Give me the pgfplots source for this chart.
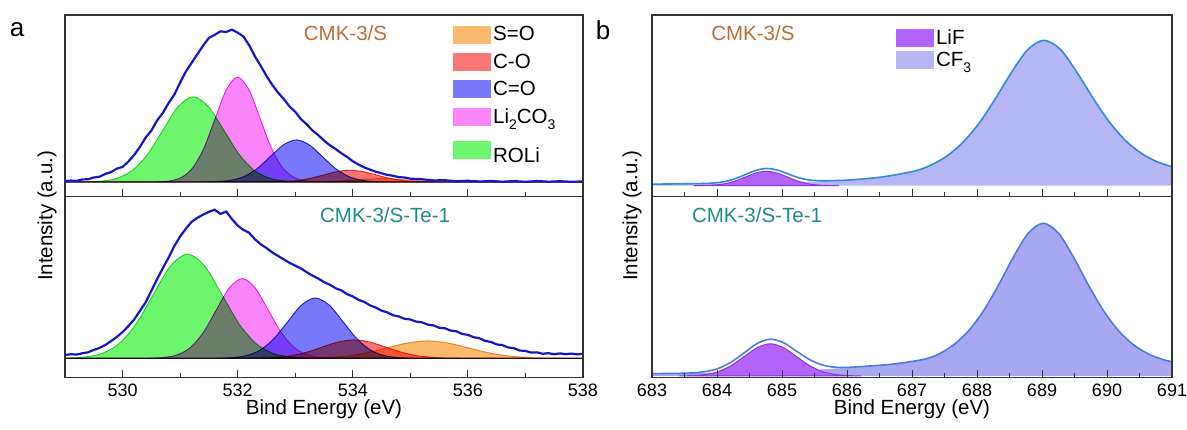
\documentclass[border=0pt]{standalone}
\usepackage{pgfplots}
\pgfplotsset{compat=1.18}
\usepackage{fontspec}
\setmainfont{Liberation Sans}
\definecolor{envA}{RGB}{22,22,200}
\definecolor{envB}{RGB}{45,140,220}
\definecolor{envC}{RGB}{70,125,225}
\definecolor{gF}{RGB}{110,245,110}\definecolor{gL}{RGB}{40,215,40}
\definecolor{mF}{RGB}{250,132,250}\definecolor{mL}{RGB}{235,40,235}
\definecolor{bF}{RGB}{120,120,250}\definecolor{bL}{RGB}{40,40,215}
\definecolor{rF}{RGB}{250,118,118}\definecolor{rL}{RGB}{235,40,40}
\definecolor{oF}{RGB}{250,185,110}\definecolor{oL}{RGB}{240,150,50}
\definecolor{lifF}{RGB}{178,100,248}\definecolor{lifL}{RGB}{140,50,225}
\definecolor{cfF}{RGB}{182,182,245}\definecolor{cfF2}{RGB}{168,168,242}
\definecolor{cmkS}{RGB}{188,110,55}\definecolor{cmkT}{RGB}{30,140,130}
\newcommand\lab{\fontsize{20.5}{24}\selectfont}
\newcommand\sub[1]{\raisebox{-0.55ex}{\fontsize{14}{14}\selectfont #1}}
\pgfplotsset{
 xpsax/.style={scale only axis, anchor=south west, clip=true, axis on top,
  ytick=\empty, tick align=inside, xtick pos=left,
  major tick length=7pt, minor tick length=4pt,
  axis line style={line width=1.2pt, draw=black!80},
  every tick/.style={line width=1pt, black!80},
  tick label style={font=\fontsize{18}{20}\selectfont},
  xticklabel style={yshift=-3pt},
  /pgf/number format/assume math mode=true,
  legend image code/.code={\fill[##1] (0pt,-9pt) rectangle (38pt,9pt);},
 },
 comp/.style={smooth, line width=0.9pt, blend mode=multiply, forget plot},
}
\begin{document}
\begin{tikzpicture}[x=1pt,y=1pt]
\useasboundingbox (0pt,0pt) rectangle (1187pt,430pt);
% ================= panel a top =================
\begin{axis}[xpsax, at={(65pt,233.5pt)}, width=518pt, height=181.5pt,
 xmin=529, xmax=538, ymin=-14.8, ymax=170.5,
 xtick={530,532,534,536,538}, minor xtick={531,533,535,537}, xticklabels={},
 legend style={at={(0.749,0.948)}, anchor=north west, draw=none, fill=none,
   font=\lab, row sep=7.5pt, inner sep=0pt, /tikz/every even column/.append style={column sep=0pt}},
 legend cell align=left]
\addlegendimage{fill=oF, draw=none}\addlegendentry{S=O}
\addlegendimage{fill=rF, draw=none}\addlegendentry{C-O}
\addlegendimage{fill=bF, draw=none}\addlegendentry{C=O}
\addlegendimage{fill=mF, draw=none}\addlegendentry{Li\sub{2}CO\sub{3}}
\addlegendimage{fill=gF, draw=none}\addlegendentry{\rule{0pt}{26pt}ROLi}
\addplot[comp, fill=oF, draw=oL] coordinates {(529,0) (532.925,0) (533.15,0.04) (533.375,0.15) (533.6,0.47) (533.825,1.14) (534.05,2.12) (534.275,3.09) (534.5,3.5) (534.725,3.09) (534.95,2.12) (535.175,1.14) (535.4,0.47) (535.625,0.15) (535.85,0.04) (536.075,0) (538,0)} \closedcycle;
\addplot[comp, fill=rF, draw=rL] coordinates {(529,0) (532.15,0) (532.375,0.03) (532.6,0.13) (532.825,0.53) (533.05,1.62) (533.275,3.9) (533.5,7.28) (533.725,10.59) (533.95,12) (534.175,10.59) (534.4,7.28) (534.625,3.9) (534.85,1.62) (535.075,0.53) (535.3,0.13) (535.525,0.03) (535.75,0) (538,0)} \closedcycle;
\addplot[comp, fill=bF, draw=bL] coordinates {(529,0) (531.22,0) (531.445,0.09) (531.67,0.48) (531.895,1.89) (532.12,5.82) (532.345,13.96) (532.57,26.1) (532.795,37.9) (533.02,43) (533.245,37.9) (533.47,26.1) (533.695,13.96) (533.92,5.82) (534.145,1.89) (534.37,0.48) (534.595,0.09) (534.82,0) (538,0)} \closedcycle;
\addplot[comp, fill=mF, draw=mL] coordinates {(529,0) (530.44,0) (530.635,0.24) (530.83,1.19) (531.025,4.7) (531.22,14.5) (531.415,34.7) (531.61,64.9) (531.805,94.4) (532,107) (532.195,94.4) (532.39,64.9) (532.585,34.7) (532.78,14.5) (532.975,4.7) (533.17,1.19) (533.365,0.24) (533.56,0) (538,0)} \closedcycle;
\addplot[comp, fill=gF, draw=gL] coordinates {(529,0) (529.11,0) (529.375,0.2) (529.64,0.97) (529.905,3.8) (530.17,11.8) (530.435,28.2) (530.7,52.8) (530.965,76.8) (531.23,87) (531.495,76.8) (531.76,52.8) (532.025,28.2) (532.29,11.8) (532.555,3.8) (532.82,0.97) (533.085,0.2) (533.35,0) (538,0)} \closedcycle;
\addplot[envA, line width=2.2pt, forget plot] coordinates {
(529.0,0.8) (529.1,1.5) (529.2,1.0) (529.3,2.6) (529.4,2.8) (529.5,4.6) (529.6,5.4) (529.7,8.2) (529.8,10.1) (529.9,13.6)
(530.0,15.4) (530.1,20.8) (530.2,27.5) (530.3,35.6) (530.4,45.2) (530.5,52.4) (530.6,62.8) (530.7,70.5) (530.8,80.6) (530.9,89.2)
(531.0,101.5) (531.1,112.8) (531.2,121.6) (531.3,130.4) (531.4,139.2) (531.5,147.1) (531.6,150.2) (531.7,153.8) (531.8,153.2) (531.9,155.6)
(532.0,152.4) (532.1,148.6) (532.2,139.5) (532.3,128.2) (532.4,118.6) (532.5,108.4) (532.6,99.2) (532.7,91.4) (532.8,84.8) (532.9,77.2)
(533.0,71.6) (533.1,64.2) (533.2,58.8) (533.3,52.6) (533.4,47.8) (533.5,42.4) (533.6,37.5) (533.7,33.8) (533.8,29.4) (533.9,25.6)
(534.0,21.2) (534.1,17.8) (534.2,14.9) (534.3,12.6) (534.4,10.5) (534.5,8.9) (534.6,7.2) (534.7,6.4) (534.8,4.9) (534.9,4.6)
(535.0,3.4) (535.2,2.8) (535.4,1.6) (535.6,1.8) (535.8,0.8) (536.0,1.3) (536.2,0.5) (536.4,1.0) (536.6,0.3) (536.8,0.9)
(537.0,0.2) (537.2,1.0) (537.4,0.3) (537.6,0.8) (537.8,0.2) (538.0,0.6)};
\node[font=\lab, text=cmkS] at (rel axis cs:0.5415,0.902) {CMK-3/S};
\end{axis}
% ================= panel a bottom =================
\begin{axis}[xpsax, at={(65pt,52.5pt)}, width=518pt, height=181pt,
 xmin=529, xmax=538, ymin=-18.8, ymax=158.3,
 xtick={530,532,534,536,538}, minor xtick={531,533,535,537}]
\addplot[comp, fill=oF, draw=oL] coordinates {(529,0) (532.5,0) (532.85,0.04) (533.2,0.19) (533.55,0.75) (533.9,2.3) (534.25,5.52) (534.6,10.31) (534.95,15.0) (535.3,17) (535.65,15.0) (536.0,10.31) (536.35,5.52) (536.7,2.3) (537.05,0.75) (537.4,0.19) (537.75,0.04) (538,0)} \closedcycle;
\addplot[comp, fill=rF, draw=rL] coordinates {(529,0) (531.82,0) (532.095,0.04) (532.37,0.2) (532.645,0.79) (532.92,2.44) (533.195,5.84) (533.47,10.92) (533.745,15.89) (534.02,18) (534.295,15.89) (534.57,10.92) (534.845,5.84) (535.12,2.44) (535.395,0.79) (535.67,0.2) (535.945,0.04) (536.22,0) (538,0)} \closedcycle;
\addplot[comp, fill=bF, draw=bL] coordinates {(529,0) (531.43,0) (531.67,0.13) (531.91,0.65) (532.15,2.59) (532.39,7.98) (532.63,19.16) (532.87,35.8) (533.11,52.1) (533.35,59) (533.59,52.1) (533.83,35.8) (534.07,19.16) (534.31,7.98) (534.55,2.59) (534.79,0.65) (535.03,0.13) (535.27,0) (538,0)} \closedcycle;
\addplot[comp, fill=mF, draw=mL] coordinates {(529,0) (530.28,0) (530.505,0.17) (530.73,0.87) (530.955,3.42) (531.18,10.55) (531.405,25.3) (531.63,47.3) (531.855,68.8) (532.08,78) (532.305,68.8) (532.53,47.3) (532.755,25.3) (532.98,10.55) (533.205,3.42) (533.43,0.87) (533.655,0.17) (533.88,0) (538,0)} \closedcycle;
\addplot[comp, fill=gF, draw=gL] coordinates {(529,0.15) (529.03,0.22) (529.33,1.13) (529.63,4.48) (529.93,13.8) (530.23,33.1) (530.53,61.9) (530.83,90.0) (531.13,102) (531.43,90.0) (531.73,61.9) (532.03,33.1) (532.33,13.8) (532.63,4.48) (532.93,1.13) (533.23,0.22) (533.53,0) (538,0)} \closedcycle;
\addplot[envA, line width=2.2pt, forget plot] coordinates {
(529.0,3.2) (529.1,4.0) (529.2,3.6) (529.3,4.9) (529.4,5.8) (529.5,8.2) (529.6,10.1) (529.7,13.0) (529.8,16.8) (529.9,20.9)
(530.0,25.6) (530.1,31.4) (530.2,37.8) (530.3,46.2) (530.4,54.6) (530.5,66.0) (530.6,77.4) (530.7,88.2) (530.8,98.5) (530.9,109.8)
(531.0,119.2) (531.1,126.8) (531.2,133.5) (531.3,137.4) (531.4,140.6) (531.5,143.2) (531.6,145.4) (531.7,141.2) (531.8,143.6) (531.9,136.2)
(532.0,129.8) (532.1,125.6) (532.2,122.8) (532.3,116.4) (532.4,111.5) (532.5,107.9) (532.6,103.6) (532.7,100.2) (532.8,96.8) (532.9,93.4)
(533.0,90.6) (533.1,87.9) (533.2,84.2) (533.3,80.9) (533.4,78.0) (533.5,74.6) (533.6,72.0) (533.7,68.6) (533.8,66.4) (533.9,62.8)
(534.0,60.5) (534.1,57.2) (534.2,55.1) (534.3,51.8) (534.4,49.6) (534.5,46.6) (534.6,44.9) (534.7,42.1) (534.8,40.9) (534.9,38.6)
(535.0,38.0) (535.1,35.9) (535.2,35.2) (535.3,33.0) (535.4,32.2) (535.5,29.9) (535.6,29.4) (535.7,27.1) (535.8,26.4) (535.9,23.8)
(536.0,22.9) (536.1,20.6) (536.2,19.6) (536.3,17.0) (536.4,16.0) (536.5,13.6) (536.6,12.8) (536.7,10.6) (536.8,9.8) (536.9,7.6)
(537.0,7.2) (537.1,5.6) (537.2,5.8) (537.3,4.4) (537.4,5.0) (537.5,3.9) (537.6,4.8) (537.7,4.0) (537.8,4.6) (537.9,3.8) (538.0,4.4)};
\node[font=\lab, text=cmkT] at (rel axis cs:0.618,0.898) {CMK-3/S-Te-1};
\end{axis}
% ================= panel b top =================
\begin{axis}[xpsax, at={(652pt,233.5pt)}, width=520pt, height=181.5pt,
 xmin=683, xmax=691, ymin=-11.2, ymax=177.3,
 xtick={683,...,691}, minor xtick={683.5,684.5,...,690.5}, xticklabels={},
 legend style={at={(0.469,0.93)}, anchor=north west, draw=none, fill=none,
   font=\lab, row sep=2pt, inner sep=0pt, /tikz/every even column/.append style={column sep=0pt}},
 legend cell align=left]
\addlegendimage{fill=lifF, draw=none}\addlegendentry{LiF}
\addlegendimage{fill=cfF, draw=none}\addlegendentry{CF\sub{3}}
\addplot[smooth, fill=cfF, draw=none, forget plot] coordinates {(683.0,1.6) (683.5,1.9) (684.03,2.2) (684.53,2.7) (685.03,3.4) (685.53,4.4) (686.03,5.9) (686.53,9.0) (687.03,15.1) (687.28,21.1) (687.53,30.5) (687.78,44.8) (688.03,64.7) (688.28,90.1) (688.53,117.6) (688.78,141.3) (689.03,151.0) (689.28,141.8) (689.53,118.6) (689.78,91.6) (690.03,66.7) (690.28,47.3) (690.53,33.5) (690.78,24.6) (691.0,19.7)} \closedcycle;
\addplot[smooth, fill=lifF, draw=lifL, line width=1pt, forget plot] coordinates {(683.64,0) (683.8,0.17) (683.96,0.66) (684.12,2.03) (684.28,4.87) (684.44,9.10) (684.60,13.24) (684.76,15) (684.92,13.24) (685.08,9.10) (685.24,4.87) (685.40,2.03) (685.56,0.66) (685.72,0.17) (685.88,0)} \closedcycle;
\addplot[smooth, envB, line width=1.6pt, forget plot] coordinates {(683.0,1.6) (683.4,1.9) (683.8,2.3) (683.96,2.9) (684.12,4.3) (684.28,7.3) (684.44,11.7) (684.60,15.9) (684.76,17.9) (684.92,16.4) (685.08,12.6) (685.24,8.6) (685.40,6.1) (685.56,5.2) (685.72,5.2) (686.03,5.9) (686.53,9.0) (687.03,15.1) (687.28,21.1) (687.53,30.5) (687.78,44.8) (688.03,64.7) (688.28,90.1) (688.53,117.6) (688.78,141.3) (689.03,151.0) (689.28,141.8) (689.53,118.6) (689.78,91.6) (690.03,66.7) (690.28,47.3) (690.53,33.5) (690.78,24.6) (691.0,19.7)};
\node[font=\lab, text=cmkS] at (rel axis cs:0.194,0.902) {CMK-3/S};
\end{axis}
% ================= panel b bottom =================
\begin{axis}[xpsax, at={(652pt,52.5pt)}, width=520pt, height=181pt,
 xmin=683, xmax=691, ymin=-1.5, ymax=173,
 xtick={683,...,691}, minor xtick={683.5,684.5,...,690.5}]
\addplot[smooth, fill=cfF2, draw=none, forget plot] coordinates {(683.0,2.2) (683.5,2.5) (684.42,3.5) (685.34,5.5) (685.8,7.0) (686.26,9.2) (686.72,11.5) (687.18,16.0) (687.41,21.0) (687.64,30.0) (687.87,43.5) (688.10,62.7) (688.33,87.5) (688.56,114.6) (688.79,137.7) (689.02,147.2) (689.25,137.9) (689.48,115.0) (689.71,88.1) (689.94,63.5) (690.17,44.1) (690.40,30.4) (690.63,21.4) (690.86,15.8) (691.0,13.7)} \closedcycle;
\addplot[smooth, fill=lifF, draw=lifL, line width=1pt, forget plot] coordinates {(683.42,0) (683.62,0.34) (683.82,1.36) (684.02,4.19) (684.22,10.07) (684.42,18.8) (684.62,27.36) (684.82,31) (685.02,27.36) (685.22,18.8) (685.42,10.07) (685.62,4.19) (685.82,1.36) (686.02,0.34) (686.22,0)} \closedcycle;
\addplot[smooth, envC, line width=1.6pt, forget plot] coordinates {(683.0,2.2) (683.4,2.5) (683.62,2.9) (683.82,4.2) (684.02,7.2) (684.22,13.4) (684.42,22.3) (684.62,31.4) (684.82,35.4) (685.02,32.2) (685.22,24.0) (685.42,15.9) (685.62,10.6) (685.82,8.4) (686.02,8.3) (686.26,9.2) (686.72,11.5) (687.18,16.0) (687.41,21.0) (687.64,30.0) (687.87,43.5) (688.10,62.7) (688.33,87.5) (688.56,114.6) (688.79,137.7) (689.02,147.2) (689.25,137.9) (689.48,115.0) (689.71,88.1) (689.94,63.5) (690.17,44.1) (690.40,30.4) (690.63,21.4) (690.86,15.8) (691.0,13.7)};
\node[font=\lab, text=cmkT] at (rel axis cs:0.202,0.898) {CMK-3/S-Te-1};
\end{axis}
% ================= labels =================
\node[font=\fontsize{26}{30}\selectfont] at (17pt,400pt) {a};
\node[font=\fontsize{26}{30}\selectfont] at (603pt,400pt) {b};
\node[rotate=90, font=\lab] at (47pt,214pt) {Intensity (a.u.)};
\node[rotate=90, font=\lab] at (632pt,214pt) {Intensity (a.u.)};
\node[font=\lab] at (324pt,21pt) {Bind Energy (eV)};
\node[font=\lab] at (912pt,21pt) {Bind Energy (eV)};
\end{tikzpicture}
\end{document}
